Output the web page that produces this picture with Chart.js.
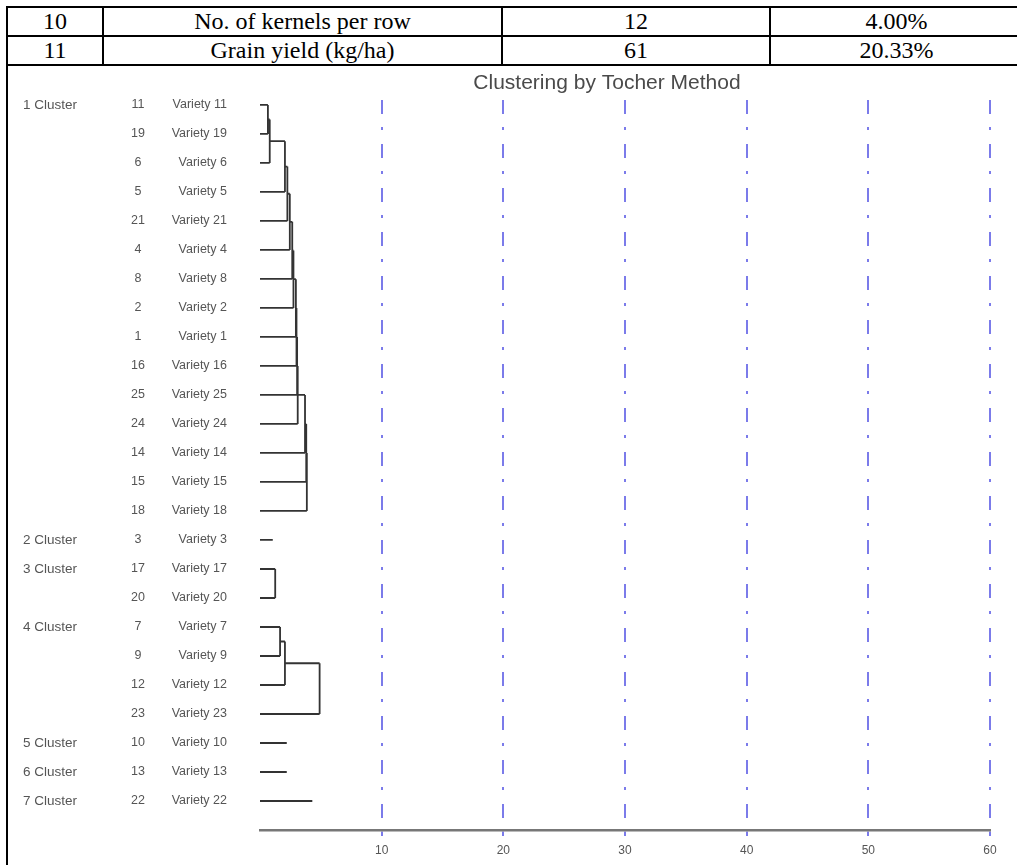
<!DOCTYPE html>
<html>
<head>
<meta charset="utf-8">
<script src="https://cdn.jsdelivr.net/npm/chart.js@4"></script>
<style>
  body { margin: 0; background: #fff; width: 1017px; height: 865px; position: relative; overflow: hidden; }
  table {
    position: absolute; left: 6px; top: 6px; width: 1016px;
    border-collapse: collapse; table-layout: fixed;
    font-family: "Liberation Serif", "Times New Roman", serif; font-size: 24px;
  }
  td { border: 2px solid #000; height: 27px; padding: 0; text-align: center; line-height: 27px; }
  #cell {
    position: absolute; left: 6px; top: 64px; width: 1020px; height: 820px;
    border-left: 2px solid #000;
  }
  #chart { position: absolute; left: 0; top: 0; }
</style>
</head>
<body>
<table>
  <colgroup><col style="width:96px"><col style="width:399px"><col style="width:268px"><col style="width:253px"></colgroup>
  <tr><td>10</td><td>No. of kernels per row</td><td>12</td><td>4.00%</td></tr>
  <tr><td>11</td><td>Grain yield (kg/ha)</td><td>61</td><td>20.33%</td></tr>
</table>
<div id="cell"></div>
<canvas id="chart" width="1017" height="865"></canvas>
<script>
// rows top to bottom, as listed in the dendrogram
const varietyNo = [11, 19, 6, 5, 21, 4, 8, 2, 1, 16, 25, 24, 14, 15, 18, 3, 17, 20, 7, 9, 12, 23, 10, 13, 22];
const clusterNo = [1, 1, 1, 1, 1, 1, 1, 1, 1, 1, 1, 1, 1, 1, 1, 2, 3, 3, 4, 4, 4, 4, 5, 6, 7];
// distance at which each row joins its cluster (singletons: own line length)
const joinDist = [0.65, 0.65, 0.8, 2.05, 2.25, 2.45, 2.65, 2.75, 2.95, 3.0, 3.05, 3.1, 3.7, 3.8, 3.85,
                  1.05, 1.25, 1.25, 1.65, 1.65, 2.05, 4.9, 2.2, 2.2, 4.3];
const xTicks = [10, 20, 30, 40, 50, 60];
const chartTitle = "Clustering by Tocher Method";

// turn the chained joins into line segments of the tree
function buildSegments() {
  const segs = [];
  let i = 0;
  while (i < varietyNo.length) {
    let j = i;
    while (j + 1 < varietyNo.length && clusterNo[j + 1] === clusterNo[i]) j++;
    if (j === i) {
      segs.push([[0, i], [joinDist[i], i]]);
    } else {
      let nodeY = i, nodeH = 0;
      for (let k = i + 1; k <= j; k++) {
        const h = joinDist[k];
        segs.push([[nodeH, nodeY], [h, nodeY]]);
        segs.push([[0, k], [h, k]]);
        segs.push([[h, nodeY], [h, k]]);
        nodeY = (nodeY + k) / 2;
        nodeH = h;
      }
    }
    i = j + 1;
  }
  return segs;
}

const treeData = [];
buildSegments().forEach(s => {
  treeData.push({ x: s[0][0], y: s[0][1] }, { x: s[1][0], y: s[1][1] }, { x: null, y: null });
});

const rowLabels = {
  id: "rowLabels",
  afterDraw(chart) {
    const { ctx, scales: { y } } = chart;
    ctx.save();
    ctx.fillStyle = "#555";
    ctx.textBaseline = "middle";
    varietyNo.forEach((v, i) => {
      const py = y.getPixelForValue(i);
      if (i === 0 || clusterNo[i] !== clusterNo[i - 1]) {
        ctx.font = '13.5px "Liberation Sans", Arial, sans-serif';
        ctx.textAlign = "left";
        ctx.fillText(clusterNo[i] + " Cluster", 23, py);
      }
      ctx.font = '12.5px "Liberation Sans", Arial, sans-serif';
      ctx.textAlign = "center";
      ctx.fillText(String(v), 138, py);
      ctx.textAlign = "right";
      ctx.fillText("Variety " + v, 227, py);
    });
    ctx.fillStyle = "#4a4a4a";
    ctx.font = '21px "Liberation Sans", Arial, sans-serif';
    ctx.textAlign = "center";
    ctx.fillText(chartTitle, 607, 83);
    ctx.restore();
  }
};

new Chart(document.getElementById("chart"), {
  type: "line",
  data: {
    datasets: [{
      data: treeData,
      borderColor: "#333",
      borderWidth: 1.8,
      pointRadius: 0,
      spanGaps: false,
      tension: 0
    }]
  },
  options: {
    responsive: false,
    animation: false,
    events: [],
    layout: { padding: { left: 260, right: 27, top: 100, bottom: 5 } },
    plugins: { legend: { display: false }, tooltip: { enabled: false } },
    scales: {
      x: {
        type: "linear",
        min: 0,
        max: 60,
        afterFit: s => { s.height = 30; },
        afterBuildTicks: s => { s.ticks = [0].concat(xTicks).map(v => ({ value: v })); },
        ticks: {
          color: "#555",
          font: { family: '"Liberation Sans", Arial, sans-serif', size: 12 },
          padding: 7,
          callback: v => (v === 0 ? "" : v)
        },
        grid: {
          color: c => (c.tick && c.tick.value === 0 ? "rgba(0,0,0,0)" : "rgba(100,100,230,0.85)"),
          lineWidth: 2,
          tickLength: 6
        },
        border: { display: true, color: "#777", width: 2.5, dash: [14, 13, 3, 14] }
      },
      y: {
        type: "linear",
        reverse: true,
        min: -0.17,
        max: 25,
        display: false
      }
    }
  },
  plugins: [rowLabels]
});
</script>
</body>
</html>
